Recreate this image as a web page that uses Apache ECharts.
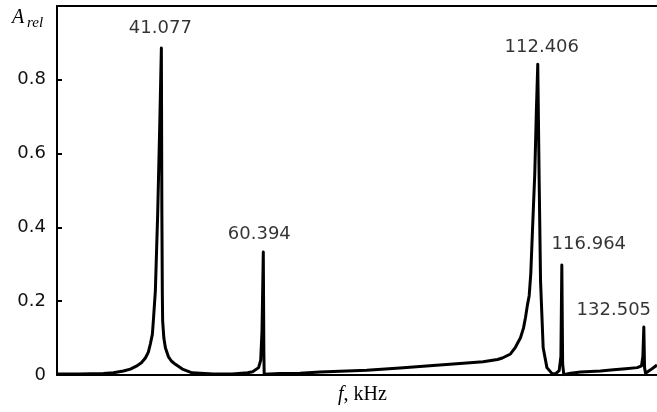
<!DOCTYPE html>
<html>
<head>
<meta charset="utf-8">
<script src="https://cdn.jsdelivr.net/npm/echarts@6/dist/echarts.min.js"></script>
<style>
  html, body { margin: 0; padding: 0; background: #fff; }
  #chart { width: 657px; height: 412px; }
</style>
</head>
<body>
<div id="chart"></div>
<script>
// spectrum (frequency in kHz, relative amplitude)
const freqs = [
  21.3, 25.5, 30.09, 31.98, 33.88, 35.2, 36.34, 37.29, 38.05, 38.61, 38.99, 39.37, 39.56, 39.94, 40.38, 40.79, 41.077,
  41.17, 41.26, 41.32, 41.55, 41.84, 42.4, 42.97, 43.73, 45.06, 46.9, 50.9,
  54.5, 57.42, 58.37, 59.5, 59.9, 60.15, 60.394, 60.5, 60.56, 60.9,
  63.56, 67.35, 71.15, 79.99, 86.3, 92.56, 97.67, 102.03,
  104.77, 105.7, 107.23, 108.17, 109.13, 109.7, 110.08, 110.45, 110.78, 111.08, 111.4, 111.84, 112.16, 112.406,
  112.67, 112.93, 113.43, 114.14, 115.16, 115.81,
  116.46, 116.79, 116.964, 117.12, 117.33,
  118.61, 120.51, 124.3, 126.76, 129.04, 131.25, 132.07, 132.32, 132.505,
  132.64, 132.83, 133.77, 135.0
];
const amps = [
  0.003, 0.003, 0.004, 0.006, 0.011, 0.016, 0.024, 0.033, 0.046, 0.062, 0.084, 0.11, 0.147, 0.228, 0.437, 0.69, 0.886,
  0.45, 0.22, 0.147, 0.1, 0.074, 0.05, 0.038, 0.029, 0.016, 0.006, 0.003,
  0.003, 0.006, 0.009, 0.02, 0.04, 0.12, 0.333, 0.06, 0.002, 0.002,
  0.004, 0.005, 0.008, 0.013, 0.019, 0.026, 0.031, 0.036,
  0.042, 0.046, 0.057, 0.075, 0.101, 0.127, 0.156, 0.19, 0.215, 0.274, 0.391, 0.546, 0.726, 0.842,
  0.527, 0.255, 0.074, 0.02, 0.003, 0.004,
  0.012, 0.05, 0.298, 0.03, 0.001,
  0.005, 0.008, 0.011, 0.014, 0.017, 0.02, 0.025, 0.05, 0.13,
  0.02, 0.005, 0.014, 0.027
];

// resonance peaks
const peakFreqs = [41.077, 60.394, 112.406, 116.964, 132.505];
const peakAmps = [0.886, 0.333, 0.842, 0.298, 0.13];

const yTicks = [0, 0.2, 0.4, 0.6, 0.8];

// label shift from the peak tip, px
const labelShift = [[-1, -20], [-4, -18], [4, -17], [27, -21], [-30, -17]];

const chart = echarts.init(document.getElementById('chart'));

const curve = freqs.map((f, i) => [f, amps[i]]);
const peaks = peakFreqs.map((f, i) => ({
  value: [f, peakAmps[i]],
  label: { offset: labelShift[i] }
}));

chart.setOption({
  animation: false,
  grid: { left: 57, right: 0, top: 6, bottom: 37 },
  xAxis: [
    {
      type: 'value',
      min: 21.3,
      max: 135,
      axisLine: { show: true, lineStyle: { color: '#000', width: 2 } },
      axisTick: { show: false },
      axisLabel: { show: false },
      splitLine: { show: false }
    },
    {
      type: 'value',
      position: 'top',
      min: 21.3,
      max: 135,
      axisLine: { show: true, lineStyle: { color: '#000', width: 2 } },
      axisTick: { show: false },
      axisLabel: { show: false },
      splitLine: { show: false }
    }
  ],
  yAxis: {
    type: 'value',
    min: 0,
    max: 1,
    interval: 0.2,
    axisLine: { show: true, lineStyle: { color: '#000', width: 2 } },
    axisTick: { show: true, inside: true, length: 5, lineStyle: { color: '#000', width: 2 } },
    axisLabel: {
      margin: 11,
      color: '#111',
      fontFamily: 'DejaVu Sans',
      fontSize: 18,
      formatter: v => (yTicks.indexOf(+v.toFixed(1)) >= 0 ? String(+v.toFixed(1)) : '')
    },
    splitLine: { show: false }
  },
  graphic: [
    {
      type: 'text',
      style: {
        x: 12, y: 18, text: 'A', verticalAlign: 'middle',
        font: 'italic 20px "Liberation Serif"', fill: '#000'
      }
    },
    {
      type: 'text',
      style: {
        x: 27, y: 23, text: 'rel', verticalAlign: 'middle',
        font: 'italic 15px "Liberation Serif"', fill: '#000'
      }
    },
    {
      type: 'text',
      style: {
        x: 338, y: 395, verticalAlign: 'middle',
        text: '{i|f}, kHz',
        font: '20px "Liberation Serif"', fill: '#000',
        rich: { i: { fontStyle: 'italic', fontFamily: 'Liberation Serif', fontSize: 20 } }
      }
    }
  ],
  series: [
    {
      type: 'line',
      data: curve,
      showSymbol: false,
      symbol: 'none',
      lineStyle: { color: '#000', width: 3, join: 'round' },
      z: 3
    },
    {
      type: 'scatter',
      data: peaks,
      symbolSize: 0.1,
      itemStyle: { color: 'transparent' },
      label: {
        show: true,
        position: 'inside',
        align: 'center',
        verticalAlign: 'middle',
        color: '#000',
        fontFamily: 'DejaVu Sans',
        fontSize: 18,
        formatter: p => p.value[0].toFixed(3)
      },
      z: 4
    }
  ]
});
</script>
</body>
</html>
